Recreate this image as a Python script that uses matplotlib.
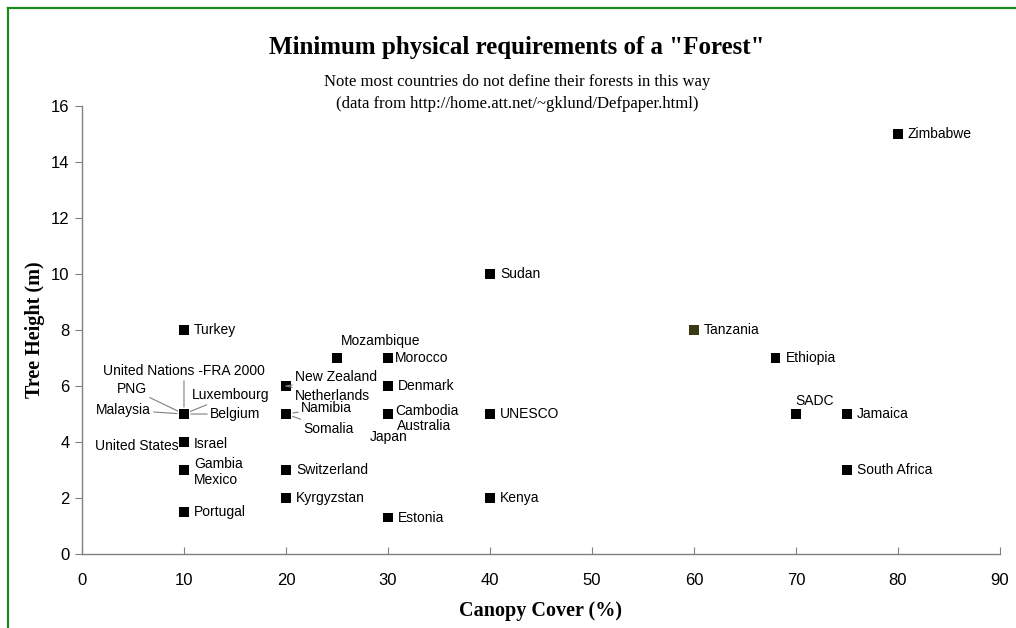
import matplotlib
matplotlib.use("Agg")
from matplotlib import pyplot as plt
from matplotlib.lines import Line2D

# Minimum canopy cover (%) and tree height (m) used to define a forest
countries = [
    "Zimbabwe", "Sudan", "Turkey", "Tanzania", "Mozambique", "Morocco",
    "Ethiopia", "New Zealand", "Netherlands", "Denmark",
    "United Nations -FRA 2000", "PNG", "Luxembourg", "Malaysia", "Belgium",
    "Namibia", "Somalia", "Cambodia", "Australia", "Japan", "UNESCO",
    "SADC", "Jamaica", "United States", "Israel", "Gambia", "Mexico",
    "Switzerland", "South Africa", "Kyrgyzstan", "Kenya", "Portugal",
    "Estonia",
]
canopy_cover = [
    80, 40, 10, 60, 25, 30,
    68, 20, 20, 30,
    10, 10, 10, 10, 10,
    20, 20, 30, 30, 30, 40,
    70, 75, 10, 10, 10, 10,
    20, 75, 20, 40, 10,
    30,
]
tree_height = [
    15, 10, 8, 8, 7, 7,
    7, 6, 6, 6,
    5, 5, 5, 5, 5,
    5, 5, 5, 5, 5, 5,
    5, 5, 4, 4, 3, 3,
    3, 3, 2, 2, 1.5,
    1.3,
]

x_ticks = [0, 10, 20, 30, 40, 50, 60, 70, 80, 90]
y_ticks = [0, 2, 4, 6, 8, 10, 12, 14, 16]

# label placement in pixels: (dx, dy, ha, leader line)
default_place = (10, 0, "left", False)
label_place = {
    "United Nations -FRA 2000": (0, 43, "center", True),
    "PNG": (-37, 25, "right", True),
    "Malaysia": (-33, 4, "right", True),
    "Luxembourg": (8, 19, "left", True),
    "Belgium": (26, 0, "left", True),
    "United States": (-5, -4, "right", False),
    "Israel": (10, -2, "left", False),
    "Gambia": (10, 6, "left", False),
    "Mexico": (10, -10, "left", False),
    "New Zealand": (9, 9, "left", True),
    "Netherlands": (9, -10, "left", True),
    "Namibia": (15, 6, "left", True),
    "Somalia": (17, -15, "left", True),
    "Mozambique": (44, 17, "center", False),
    "Morocco": (7, 0, "left", False),
    "Cambodia": (7, 3, "left", False),
    "Australia": (9, -12, "left", False),
    "Japan": (1, -23, "center", False),
    "SADC": (19, 13, "center", False),
}

serif = ["Liberation Serif", "DejaVu Serif"]
sans = ["Liberation Sans", "DejaVu Sans"]

fig = plt.figure(figsize=(10.16, 6.28), dpi=100)
ax = fig.add_axes([0.0807, 0.1178, 0.9035, 0.7134])

colors = ["#3b3a12" if c == "Tanzania" else "black" for c in countries]
ax.scatter(canopy_cover, tree_height, marker="s", s=44, c=colors,
           linewidths=0, zorder=3, clip_on=False)

for name, cx, cy in zip(countries, canopy_cover, tree_height):
    dx, dy, ha, leader = label_place.get(name, default_place)
    arrow = None
    if leader:
        arrow = dict(arrowstyle="-", color="#808080", lw=0.8,
                     shrinkA=0, shrinkB=5)
    ax.annotate(name, (cx, cy), xytext=(dx, dy), textcoords="offset pixels",
                ha=ha, va="center", fontsize=10, family=sans,
                arrowprops=arrow)

ax.set_xlim(0, 90)
ax.set_ylim(0, 16)
ax.set_xticks(x_ticks)
ax.set_yticks(y_ticks)
for lab in ax.get_xticklabels() + ax.get_yticklabels():
    lab.set_family(sans)
    lab.set_fontsize(12)
ax.tick_params(axis="x", direction="in", length=5, color="#808080", pad=14)
ax.tick_params(axis="y", direction="out", length=5, color="#808080", pad=4)

for side in ("top", "right"):
    ax.spines[side].set_visible(False)
for side in ("left", "bottom"):
    ax.spines[side].set_color("#808080")
    ax.spines[side].set_linewidth(1.0)

ax.set_xlabel("Canopy Cover (%)", family=serif, fontweight="bold",
              fontsize=14.5, labelpad=9)
ax.set_ylabel("Tree Height (m)", family=serif, fontweight="bold",
              fontsize=14.5, labelpad=4)

fig.text(0.509, 0.924, 'Minimum physical requirements of a "Forest"',
         ha="center", va="center", family=serif, fontweight="bold",
         fontsize=18)
fig.text(0.509, 0.869, "Note most countries do not define their forests in this way",
         ha="center", va="center", family=serif, fontsize=12)
fig.text(0.509, 0.834, "(data from http://home.att.net/~gklund/Defpaper.html)",
         ha="center", va="center", family=serif, fontsize=12)

# green frame along top and left edges
fig.add_artist(Line2D([8 / 1016, 8 / 1016], [0, 1 - 8 / 628],
                      transform=fig.transFigure, color="#1a8a1a", lw=1.6))
fig.add_artist(Line2D([8 / 1016, 1], [1 - 8 / 628, 1 - 8 / 628],
                      transform=fig.transFigure, color="#1a8a1a", lw=1.6))

fig.savefig("out.png", dpi=100)
